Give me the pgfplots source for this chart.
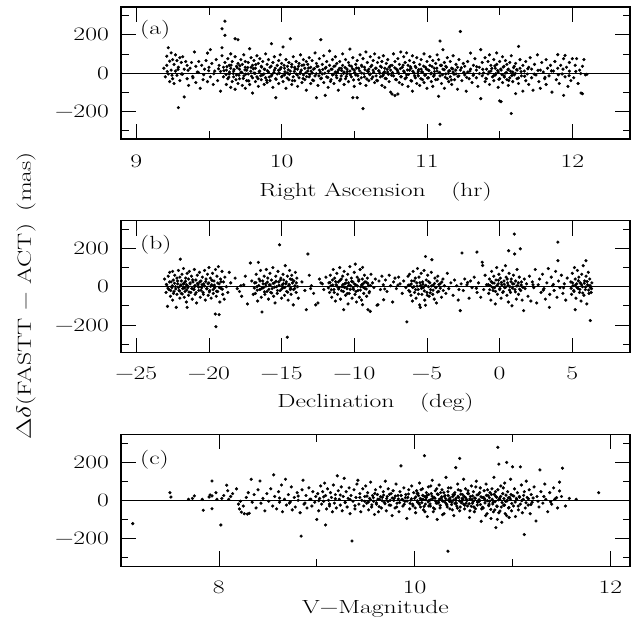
\documentclass[border=0pt]{standalone}
\usepackage{graphicx}
\usepackage{pgfplots}
\pgfplotsset{compat=1.18}

\newcommand{\wide}[1]{\scalebox{1.35}[1]{#1}}
\newcommand{\bigfont}{\fontsize{19bp}{22bp}\selectfont}

\pgfplotsset{
  panel/.style={
    scale only axis, width=509bp, height=132bp,
    anchor=north west,
    ymin=-345, ymax=345,
    ytick={-200,0,200}, minor ytick={-300,-100,100,300},
    yticklabels={\wide{−200},\wide{0},\wide{200}},
    tick align=inside,
    major tick length=15bp, minor tick length=7.5bp,
    tick style={black, line width=0.7bp},
    axis line style={line width=1.5bp},
    tick label style={font=\bigfont},
    label style={font=\bigfont},
    yticklabel style={anchor=east, inner sep=0pt, xshift=-12bp},
    xlabel style={at={(axis description cs:0.5,0)}, anchor=base, inner sep=0pt},
  },
  pts/.style={only marks, mark=*, mark size=1.4bp, black},
  zero/.style={black, line width=0.7bp, forget plot},
}

\begin{document}
\begin{tikzpicture}[font=\bigfont]
\path[use as bounding box] (-121bp,7bp) rectangle (517bp,-622bp);

% (a) right ascension
\begin{axis}[panel, at={(0,0)},
  xmin=8.895, xmax=12.397,
  xtick={9,10,11,12}, minor xtick={9.5,10.5,11.5},
  xticklabels={\wide{9},\wide{10},\wide{11},\wide{12}},
  xticklabel style={anchor=base, inner sep=0pt, yshift=-29bp},
  xlabel={\wide{Right Ascension\quad(hr)}},
  xlabel style={yshift=-58bp}]
\addplot[zero] coordinates {(8.895,0) (12.397,0)};
\addplot[pts] coordinates {
(9.19,25) (9.20,-20) (9.21,88) (9.21,40) (9.22,132) (9.22,-5) (9.23,62) (9.23,-45) (9.24,105) (9.24,15) (9.25,70) (9.25,-30)
(9.26,45) (9.26,-55) (9.27,95) (9.27,10) (9.28,65) (9.28,-12) (9.29,-181) (9.29,30) (9.30,80) (9.30,-40)
(9.31,55) (9.31,-5) (9.32,85) (9.33,-125) (9.33,20) (9.34,60) (9.35,-30) (9.35,40)
(9.36,-65) (9.37,25) (9.38,55) (9.39,-25) (9.40,110) (9.41,35) (9.41,-50) (9.42,5) (9.43,60) (9.44,-80) (9.45,40)
(9.46,-35) (9.47,20) (9.48,65) (9.49,104) (9.49,-45) (9.50,30) (9.51,122) (9.51,-20) (9.52,50) (9.53,-60) (9.54,10) (9.55,70)
(9.56,-40) (9.57,40) (9.58,-95) (9.58,8) (9.59,132) (9.59,231) (9.59,90) (9.60,-20) (9.60,30)
(9.61,271) (9.61,197) (9.61,55) (9.62,-60) (9.62,15) (9.63,75) (9.63,-30) (9.64,40) (9.64,-5) (9.65,100) (9.65,-75) (9.65,25)
(9.66,-45) (9.66,60) (9.67,10) (9.67,-20) (9.68,179) (9.68,85) (9.68,-85) (9.69,35) (9.69,-10) (9.70,174) (9.70,50) (9.70,-55)
(9.71,20) (9.71,-30) (9.72,70) (9.72,5) (9.73,-65) (9.73,45) (9.74,95) (9.74,-15) (9.75,30) (9.75,-80) (9.75,60)
(9.76,-40) (9.76,15) (9.77,55) (9.77,-5) (9.78,127) (9.78,-60) (9.79,30) (9.79,80) (9.80,-25) (9.80,40) (9.80,-105)
(9.81,65) (9.81,0) (9.82,-45) (9.82,25) (9.83,90) (9.83,-20) (9.84,50) (9.84,-70) (9.85,10) (9.85,75)
(9.86,-35) (9.86,35) (9.87,-10) (9.87,60) (9.88,-60) (9.88,20) (9.89,100) (9.89,-25) (9.90,45) (9.90,-50)
(9.91,5) (9.91,70) (9.92,-40) (9.92,30) (9.93,153) (9.93,-15) (9.94,55) (9.94,-75) (9.95,15) (9.95,85)
(9.96,-129) (9.96,-30) (9.97,40) (9.97,-5) (9.98,65) (9.98,-55) (9.99,20) (9.99,95) (10.00,-20) (10.00,50)
(10.01,136) (10.01,-45) (10.02,25) (10.02,-10) (10.03,70) (10.03,-80) (10.04,35) (10.04,0) (10.05,-35) (10.05,55)
(10.06,179) (10.06,10) (10.07,-60) (10.07,45) (10.08,-20) (10.08,85) (10.09,30) (10.09,-40) (10.10,60) (10.10,-5)
(10.11,-70) (10.11,20) (10.12,50) (10.12,-25) (10.13,95) (10.13,5) (10.14,-50) (10.14,40) (10.15,-10) (10.15,70)
(10.16,-35) (10.16,25) (10.17,60) (10.17,-90) (10.18,10) (10.18,45) (10.19,-20) (10.19,80) (10.20,-55) (10.20,30)
(10.21,0) (10.21,65) (10.22,-40) (10.22,20) (10.23,105) (10.23,-15) (10.24,50) (10.24,-129) (10.25,35) (10.25,-65)
(10.26,15) (10.26,75) (10.27,174) (10.27,-30) (10.28,45) (10.28,-5) (10.29,90) (10.29,-50) (10.30,-117) (10.30,25)
(10.31,60) (10.31,-20) (10.32,10) (10.32,-75) (10.33,40) (10.33,115) (10.34,-35) (10.34,20) (10.35,70) (10.35,-10)
(10.36,-55) (10.36,35) (10.37,5) (10.37,85) (10.38,-25) (10.38,50) (10.39,-90) (10.39,15) (10.40,60) (10.40,-40)
(10.41,25) (10.41,-15) (10.42,100) (10.42,40) (10.43,-60) (10.43,5) (10.44,70) (10.44,-30) (10.45,20) (10.45,-5)
(10.46,55) (10.46,-45) (10.47,10) (10.47,125) (10.48,-20) (10.48,35) (10.49,-129) (10.49,80) (10.50,-70) (10.50,15)
(10.51,45) (10.51,-10) (10.52,-129) (10.52,65) (10.53,-35) (10.53,25) (10.54,95) (10.54,-55) (10.55,0) (10.55,40)
(10.56,-186) (10.56,75) (10.57,-20) (10.57,30) (10.58,110) (10.58,-65) (10.59,10) (10.59,55) (10.60,-40) (10.60,20)
(10.61,85) (10.61,-5) (10.62,40) (10.62,-30) (10.63,65) (10.63,15) (10.64,-50) (10.64,100) (10.65,25) (10.65,-15)
(10.66,55) (10.66,-40) (10.67,10) (10.67,80) (10.68,-20) (10.68,35) (10.69,-65) (10.69,60) (10.70,0) (10.70,-10) (10.70,90)
(10.71,25) (10.71,-75) (10.72,50) (10.72,-30) (10.73,5) (10.73,70) (10.74,-45) (10.74,30) (10.75,-100) (10.75,15)
(10.76,-110) (10.76,40) (10.77,-15) (10.77,100) (10.78,-118) (10.78,60) (10.79,-35) (10.79,20) (10.80,-110) (10.80,75) (10.80,5)
(10.81,-50) (10.81,45) (10.82,110) (10.82,-20) (10.83,30) (10.83,-60) (10.84,85) (10.84,10) (10.85,-30) (10.85,55)
(10.86,105) (10.86,-10) (10.87,40) (10.87,-70) (10.88,15) (10.88,65) (10.89,-40) (10.89,25) (10.90,-95) (10.90,90)
(10.91,0) (10.91,55) (10.92,-25) (10.92,35) (10.93,-55) (10.93,80) (10.94,10) (10.94,-15) (10.95,45) (10.95,-65)
(10.96,20) (10.96,70) (10.97,-35) (10.97,5) (10.98,100) (10.98,-50) (10.99,30) (10.99,-10) (11.00,60) (11.00,-80)
(11.01,15) (11.01,-25) (11.02,85) (11.02,40) (11.03,-45) (11.03,0) (11.04,65) (11.04,-70) (11.05,25) (11.05,-10)
(11.06,50) (11.06,-35) (11.07,95) (11.07,10) (11.08,-122) (11.08,70) (11.09,167) (11.09,-268) (11.09,-15) (11.10,40) (11.10,-55)
(11.11,20) (11.11,122) (11.12,-80) (11.12,55) (11.13,-5) (11.13,35) (11.14,-30) (11.14,80) (11.15,10) (11.15,-45)
(11.16,60) (11.16,-20) (11.17,25) (11.17,-60) (11.18,90) (11.18,5) (11.19,-35) (11.20,45) (11.20,-5)
(11.21,30) (11.21,-85) (11.22,70) (11.22,-15) (11.23,217) (11.23,15) (11.24,-40) (11.25,50)
(11.26,-10) (11.26,35) (11.27,-95) (11.28,60) (11.28,5) (11.29,-30) (11.30,104) (11.30,20)
(11.31,-50) (11.32,40) (11.32,-5) (11.33,75) (11.34,-25) (11.34,15) (11.35,-70)
(11.36,30) (11.37,-134) (11.37,122) (11.38,-15) (11.38,55) (11.39,0) (11.40,-45) (11.40,80)
(11.41,20) (11.41,-30) (11.42,60) (11.42,-5) (11.43,95) (11.43,-60) (11.44,10) (11.44,40) (11.45,-20)
(11.46,70) (11.46,-40) (11.47,25) (11.47,-10) (11.48,105) (11.48,45) (11.49,-75) (11.49,5) (11.50,-146) (11.50,60) (11.50,-30)
(11.51,-150) (11.51,15) (11.52,85) (11.52,-50) (11.53,35) (11.53,-15) (11.54,65) (11.54,0) (11.55,-35) (11.55,45)
(11.56,-65) (11.56,20) (11.57,55) (11.57,-25) (11.58,-212) (11.58,90) (11.59,5) (11.59,-45) (11.60,35) (11.60,-10)
(11.61,-108) (11.61,50) (11.62,-30) (11.62,15) (11.63,139) (11.63,-55) (11.64,25) (11.64,70) (11.65,-15)
(11.66,40) (11.66,-95) (11.67,10) (11.68,-40) (11.68,60) (11.69,-5) (11.70,30) (11.70,-60)
(11.71,80) (11.72,-25) (11.72,20) (11.73,-90) (11.74,45) (11.75,-10)
(11.76,95) (11.77,-45) (11.78,15) (11.78,-80) (11.79,55) (11.80,5)
(11.81,-30) (11.82,70) (11.82,-60) (11.83,25) (11.84,-15) (11.85,40)
(11.86,-100) (11.87,10) (11.88,60) (11.89,-35) (11.90,96) (11.90,25)
(11.91,-55) (11.92,40) (11.93,-5) (11.94,-117) (11.94,75) (11.95,92) (11.95,-20)
(11.96,30) (11.97,-70) (11.98,55) (11.98,10) (11.99,-40) (12.00,75)
(12.01,-25) (12.02,40) (12.03,75) (12.04,-55) (12.05,15) (12.06,-105) (12.07,-108) (12.07,35) (12.08,70) (12.09,-10) (12.10,-7)
};
\addplot[pts] coordinates {
(9.213,8) (9.246,-12) (9.287,19) (9.318,-6) (9.356,14) (9.388,-18) (9.427,3) (9.464,-9) (9.498,12) (9.533,-4) (9.566,22)
(9.603,12) (9.618,-8) (9.624,33) (9.637,-22) (9.641,5) (9.652,41) (9.668,-3) (9.673,18) (9.686,-35) (9.694,27)
(9.707,-12) (9.713,38) (9.727,2) (9.736,-28) (9.748,16) (9.753,-6) (9.767,29) (9.774,-41) (9.788,9) (9.793,-17)
(9.806,22) (9.817,-2) (9.822,44) (9.838,-30) (9.846,7) (9.857,-14) (9.863,31) (9.878,-5) (9.884,19) (9.897,-38)
(9.903,11) (9.915,-21) (9.928,36) (9.934,-9) (9.947,3) (9.956,25) (9.962,-33) (9.979,14) (9.985,-1) (9.996,28)
(10.004,-16) (10.017,40) (10.023,6) (10.038,-26) (10.046,17) (10.053,-7) (10.069,32) (10.074,-40) (10.087,8) (10.093,21)
(10.108,-11) (10.116,35) (10.127,-3) (10.135,15) (10.148,-29) (10.153,42) (10.167,1) (10.172,-19) (10.186,26) (10.194,-8)
(10.203,10) (10.214,-37) (10.226,23) (10.238,-4) (10.243,34) (10.257,-15) (10.266,5) (10.274,-27) (10.283,18) (10.297,-1)
(10.305,30) (10.318,-23) (10.324,9) (10.336,-44) (10.347,20) (10.355,-6) (10.368,37) (10.376,-13) (10.384,4) (10.398,24)
(10.407,-32) (10.413,13) (10.426,-2) (10.437,29) (10.445,-18) (10.452,7) (10.466,40) (10.473,-10) (10.488,22) (10.495,-36)
(10.503,3) (10.516,26) (10.524,-14) (10.537,11) (10.548,-25) (10.553,35) (10.567,-4) (10.574,17) (10.586,-31) (10.597,8)
(10.606,-9) (10.614,33) (10.628,-20) (10.633,4) (10.647,25) (10.655,-38) (10.668,12) (10.676,-1) (10.687,30) (10.694,-16)
(10.708,6) (10.713,-28) (10.726,19) (10.734,-7) (10.748,38) (10.756,-12) (10.763,2) (10.779,27) (10.784,-34) (10.797,14)
(10.806,-3) (10.817,23) (10.823,-19) (10.836,41) (10.844,5) (10.858,-24) (10.866,16) (10.873,-8) (10.887,32) (10.895,-42)
(10.903,9) (10.916,-15) (10.924,28) (10.937,-1) (10.943,18) (10.958,-30) (10.964,6) (10.977,36) (10.985,-11) (10.996,21)
(11.004,-26) (11.013,13) (11.027,-4) (11.035,34) (11.046,-17) (11.052,8) (11.068,25) (11.074,-33) (11.087,3) (11.093,40)
(11.107,-9) (11.118,17) (11.126,-22) (11.134,30) (11.147,-2) (11.156,12) (11.168,-36) (11.177,22) (11.186,-6) (11.198,15)
(11.214,-18) (11.236,27) (11.254,4) (11.273,-23) (11.296,10) (11.318,-12) (11.342,33) (11.361,-3) (11.384,19) (11.405,-28)
(11.427,6) (11.446,24) (11.458,-15) (11.467,37) (11.474,-4) (11.486,13) (11.495,-33) (11.507,20) (11.516,-8) (11.524,31)
(11.533,-21) (11.546,2) (11.557,16) (11.563,-39) (11.575,9) (11.584,-13) (11.596,28) (11.608,-2) (11.617,18) (11.629,-26)
(11.648,7) (11.672,-17) (11.694,22) (11.738,-6) (11.764,14) (11.812,-22) (11.857,11) (11.904,-9) (11.936,20) (11.978,-14) (12.024,8) (12.058,-3)
};
\node[anchor=base west, inner sep=0pt, xshift=19bp, yshift=-27bp] at (rel axis cs:0,1) {\wide{(a)}};
\end{axis}

% (b) declination
\begin{axis}[panel, at={(0,-213.7bp)},
  xmin=-26.05, xmax=8.97,
  xtick={-25,-20,-15,-10,-5,0,5},
  xticklabels={\wide{−25},\wide{−20},\wide{−15},\wide{−10},\wide{−5},\wide{0},\wide{5}},
  xticklabel style={anchor=base, inner sep=0pt, yshift=-27bp},
  xlabel={\wide{Declination\quad(deg)}},
  xlabel style={yshift=-55bp}]
\addplot[zero] coordinates {(-26.05,0) (8.97,0)};
\addplot[pts] coordinates {
(-23.05,40) (-22.95,-30) (-22.9,10) (-22.85,-103) (-22.8,55) (-22.75,-15) (-22.7,75) (-22.65,-50) (-22.6,25) (-22.55,-5) (-22.5,80) (-22.5,-70)
(-22.45,35) (-22.4,-25) (-22.35,60) (-22.3,0) (-22.25,-108) (-22.2,45) (-22.2,-40) (-22.15,15) (-22.1,85) (-22.05,-20) (-22.0,50) (-22.0,-60) (-21.97,144) (-21.95,5)
(-21.9,-35) (-21.9,30) (-21.85,65) (-21.8,-10) (-21.75,95) (-21.7,-55) (-21.7,20) (-21.65,-25) (-21.6,45) (-21.55,-80) (-21.55,10) (-21.5,-108) (-21.5,70)
(-21.45,-5) (-21.4,40) (-21.4,-45) (-21.35,80) (-21.3,15) (-21.25,-30) (-21.2,55) (-21.15,-65) (-21.1,25) (-21.05,-15) (-21.0,90) (-21.0,0)
(-20.95,-40) (-20.9,35) (-20.85,-85) (-20.8,60) (-20.75,10) (-20.7,-20) (-20.65,75) (-20.6,-55) (-20.55,30) (-20.5,-5)
(-20.45,50) (-20.4,-30) (-20.35,15) (-20.3,85) (-20.25,-70) (-20.2,40) (-20.15,-10) (-20.1,65) (-20.05,-45) (-20.0,20) (-20.0,100)
(-19.95,-20) (-19.9,45) (-19.85,-60) (-19.8,10) (-19.75,70) (-19.7,-35) (-19.65,30) (-19.6,-5) (-19.56,-143) (-19.55,90) (-19.52,-209) (-19.5,-50)
(-19.45,55) (-19.4,-25) (-19.35,105) (-19.3,-146) (-19.3,15) (-19.25,-80) (-19.2,40) (-19.15,-10) (-19.1,80) (-19.05,-40) (-19.0,25)
(-18.95,-65) (-18.9,50) (-18.8,0) (-18.7,-30) (-18.6,75) (-18.5,20)
(-18.2,45) (-18.05,-10) (-17.9,-25) (-17.75,-50) (-17.6,10) (-17.5,55) (-17.35,-90) (-17.15,124) (-17.05,30) (-16.95,-40)
(-16.85,20) (-16.8,-35) (-16.75,65) (-16.7,0) (-16.65,-75) (-16.6,127) (-16.55,40) (-16.5,-15) (-16.45,85) (-16.4,-55)
(-16.35,-132) (-16.3,30) (-16.25,-5) (-16.2,55) (-16.15,-40) (-16.1,15) (-16.05,90) (-16.0,-25) (-15.95,45) (-15.9,-65)
(-15.85,10) (-15.8,70) (-15.75,-30) (-15.7,35) (-15.65,-10) (-15.6,100) (-15.55,-50) (-15.5,20) (-15.45,-85) (-15.4,55)
(-15.35,0) (-15.3,-35) (-15.25,80) (-15.2,25) (-15.14,219) (-15.1,-20) (-15.05,45) (-15.0,-60) (-14.95,10) (-14.9,65) (-14.9,-5)
(-14.85,35) (-14.8,-45) (-14.75,110) (-14.7,15) (-14.65,-25) (-14.61,-264) (-14.6,55) (-14.55,-70) (-14.5,5) (-14.45,85) (-14.4,-15) (-14.4,40)
(-14.35,-40) (-14.3,60) (-14.25,20) (-14.2,-95) (-14.15,30) (-14.1,-10) (-14.05,75) (-14.0,-30) (-13.95,45) (-13.9,0) (-13.85,-60)
(-13.6,25) (-13.4,-20) (-13.3,-120) (-13.19,171) (-13.1,60) (-12.95,5) (-12.8,-35) (-12.65,-95) (-12.5,-85) (-12.4,40) (-12.2,15) (-12.1,-15) (-11.95,50)
(-11.75,20) (-11.7,-30) (-11.65,60) (-11.6,5) (-11.55,-55) (-11.5,35) (-11.45,90) (-11.4,-15) (-11.35,45) (-11.3,-75)
(-11.25,10) (-11.2,70) (-11.15,-40) (-11.1,25) (-11.05,-5) (-11.0,100) (-10.95,-65) (-10.9,40) (-10.85,0) (-10.8,55)
(-10.75,-25) (-10.73,-120) (-10.7,80) (-10.65,15) (-10.6,-45) (-10.55,35) (-10.5,-10) (-10.45,65) (-10.43,-90) (-10.4,20) (-10.35,-35) (-10.3,105)
(-10.25,5) (-10.2,45) (-10.15,-60) (-10.1,25) (-10.05,-15) (-10.0,75) (-9.95,-40) (-9.93,118) (-9.9,10) (-9.85,-80) (-9.8,50)
(-9.75,-20) (-9.7,30) (-9.65,-55) (-9.6,90) (-9.55,0) (-9.5,-70) (-9.45,40) (-9.43,-94) (-9.43,101) (-9.4,15) (-9.35,-35) (-9.3,60)
(-9.25,-10) (-9.2,25) (-9.15,-50) (-9.1,45) (-9.06,-120) (-9.0,5) (-8.95,-25) (-8.9,-129) (-8.85,65)
(-8.75,20) (-8.65,-5) (-8.55,40) (-8.44,-97) (-8.37,-94) (-8.3,30) (-8.2,-15) (-8.1,55) (-8.0,10) (-7.98,-68) (-7.85,35) (-7.75,-25) (-7.6,60) (-7.5,5) (-7.36,-80) (-7.3,25) (-7.2,45) (-7.1,-10) (-6.95,50) (-6.85,15) (-6.7,-35) (-6.6,30) (-6.45,-5) (-6.38,-184) (-6.3,55)
(-6.25,-20) (-6.2,65) (-6.15,10) (-6.1,-45) (-6.05,30) (-6.0,-75) (-5.95,80) (-5.9,0) (-5.85,-30) (-5.8,45)
(-5.75,-60) (-5.7,20) (-5.65,95) (-5.6,-15) (-5.55,50) (-5.5,-95) (-5.46,-108) (-5.45,5) (-5.4,70) (-5.35,-40) (-5.3,25)
(-5.25,-5) (-5.2,85) (-5.15,-70) (-5.1,158) (-5.1,-97) (-5.05,35) (-5.0,-30) (-4.95,60) (-4.9,0) (-4.85,-50) (-4.8,20)
(-4.75,-15) (-4.7,75) (-4.66,141) (-4.6,-40) (-4.55,10) (-4.5,-65) (-4.45,45) (-4.4,-5) (-4.35,-85) (-4.3,30)
(-4.25,55) (-4.2,-25) (-4.1,15) (-4.0,-55) (-3.9,40) (-3.8,5) (-3.7,-35) (-3.6,70) (-3.5,-10)
(-3.35,20) (-3.2,-45) (-3.1,35) (-2.95,5) (-2.85,-70) (-2.71,-125) (-2.65,15) (-2.59,176) (-2.5,-20) (-2.4,40) (-2.25,10) (-2.1,-60) (-2.0,30) (-1.9,-5) (-1.75,50) (-1.56,181) (-1.55,-30) (-1.45,20) (-1.3,-55) (-1.2,128) (-1.17,111) (-1.1,-15) (-1.0,60) (-0.9,10)
(-0.75,-35) (-0.7,40) (-0.65,5) (-0.6,-70) (-0.55,80) (-0.5,20) (-0.45,-20) (-0.4,55) (-0.35,-5) (-0.3,-90)
(-0.25,35) (-0.2,100) (-0.15,-40) (-0.1,15) (-0.05,65) (0.0,-15) (0.05,45) (0.1,-60) (0.15,10) (0.2,85)
(0.25,-25) (0.3,30) (0.35,-5) (0.4,110) (0.45,50) (0.5,-45) (0.55,20) (0.6,-80) (0.62,188) (0.65,70) (0.7,0)
(0.75,-30) (0.8,40) (0.85,-100) (0.9,15) (0.95,60) (1.01,275) (1.03,171) (1.05,-15) (1.1,30) (1.15,-65) (1.2,90)
(1.25,5) (1.3,-40) (1.35,50) (1.42,198) (1.45,-20) (1.5,25) (1.55,-70) (1.65,-125) (1.7,40) (1.75,-10)
(1.85,15) (1.95,-50) (2.05,55) (2.15,-75) (2.25,25) (2.35,-5) (2.45,90) (2.55,-85) (2.65,10) (2.75,40) (2.85,-30) (2.95,65) (3.05,-10) (3.15,-65) (3.25,20) (3.35,95) (3.42,-108) (3.45,-40) (3.55,50) (3.65,5) (3.75,-20) (3.85,80) (3.95,-55) (4.01,233) (4.01,136) (4.05,30) (4.15,-5) (4.25,60) (4.35,-35) (4.45,15) (4.55,-70) (4.65,45)
(4.9,25) (4.95,-40) (5.0,70) (5.05,5) (5.1,-20) (5.15,100) (5.2,-120) (5.2,40) (5.25,-60) (5.3,15) (5.35,85) (5.4,-10) (5.45,50) (5.5,-30) (5.55,20) (5.6,-75) (5.65,65) (5.7,0) (5.75,110) (5.8,-45) (5.85,30) (5.9,-15) (5.94,136) (5.95,55) (6.0,-90) (6.05,10) (6.1,75) (6.15,-35) (6.2,40) (6.24,-177) (6.25,-5) (6.3,-30) (6.35,20)
};
\addplot[pts] coordinates {
(-22.93,12) (-22.82,-8) (-22.71,25) (-22.63,-20) (-22.52,5) (-22.44,-35) (-22.37,18) (-22.28,-12) (-22.16,30) (-22.09,-4)
(-22.02,-22) (-21.93,9) (-21.84,-38) (-21.76,14) (-21.68,-6) (-21.61,28) (-21.53,-17) (-21.46,3) (-21.37,-28) (-21.29,20)
(-21.18,-9) (-21.12,36) (-21.03,-14) (-20.96,6) (-20.88,-31) (-20.79,17) (-20.71,-2) (-20.63,24) (-20.54,-19) (-20.47,10)
(-20.38,-40) (-20.31,4) (-20.22,27) (-20.14,-11) (-20.06,15) (-19.97,-27) (-19.88,2) (-19.79,33) (-19.71,-15) (-19.63,8)
(-19.48,-24) (-19.39,19) (-19.28,-5) (-19.17,26) (-19.08,-13)
(-16.88,-7) (-16.77,21) (-16.68,-18) (-16.57,6) (-16.48,30) (-16.38,-10) (-16.27,15) (-16.18,-27) (-16.08,3) (-15.98,24)
(-15.88,-14) (-15.78,9) (-15.68,-33) (-15.58,18) (-15.48,-2) (-15.38,28) (-15.28,-20) (-15.18,7) (-15.08,35) (-14.98,-11)
(-14.88,16) (-14.78,-4) (-14.68,25) (-14.58,-29) (-14.48,12) (-14.38,-8) (-14.28,38) (-14.18,-15) (-14.08,5) (-13.98,20)
(-11.78,-6) (-11.68,22) (-11.58,-16) (-11.48,9) (-11.38,-30) (-11.28,26) (-11.18,2) (-11.08,-12) (-10.98,33) (-10.88,-21)
(-10.78,11) (-10.68,-3) (-10.58,19) (-10.48,-36) (-10.38,7) (-10.28,-14) (-10.18,28) (-10.08,-7) (-9.98,14) (-9.88,-25)
(-9.78,4) (-9.68,37) (-9.58,-18) (-9.48,10) (-9.38,-3) (-9.28,24) (-9.18,-12) (-9.08,18) (-8.98,-32) (-8.88,6)
(-6.28,8) (-6.18,-26) (-6.08,14) (-5.98,-4) (-5.88,30) (-5.78,-15) (-5.68,3) (-5.58,-38) (-5.48,21) (-5.38,-9)
(-5.28,13) (-5.18,-22) (-5.08,7) (-4.98,-45) (-4.88,26) (-4.78,-32) (-4.68,4) (-4.58,-18) (-4.48,17) (-4.38,-3)
(-4.28,-28) (-4.18,11) (-4.08,-8) (-3.98,24) (-3.88,-20)
(-0.78,11) (-0.68,-16) (-0.58,27) (-0.48,-4) (-0.38,19) (-0.28,-25) (-0.18,6) (-0.08,34) (0.02,-9) (0.12,22)
(0.22,-30) (0.32,13) (0.42,-2) (0.52,40) (0.58,8) (0.68,-18) (0.78,26) (0.88,-7) (0.98,15) (1.08,-27) (1.18,4) (1.28,20) (1.38,-13) (1.48,9) (1.6,-3)
(-17.8,5) (-13.0,-10) (-12.3,20) (-7.9,-12) (-7.0,8) (-2.8,-15) (-2.2,22) (-1.6,-8) (2.3,10) (3.0,-18) (3.7,12) (4.4,-6)
(4.92,-8) (5.02,20) (5.12,-25) (5.22,9) (5.32,-4) (5.42,31) (5.52,-14) (5.62,12) (5.72,-33) (5.82,18) (5.92,-2) (6.02,27) (6.12,-18) (6.22,6) (6.32,-10)
};
\node[anchor=base west, inner sep=0pt, xshift=19bp, yshift=-29bp] at (rel axis cs:0,1) {\wide{(b)}};
\end{axis}

% (c) V magnitude
\begin{axis}[panel, at={(0,-427.3bp)},
  xmin=7.0, xmax=12.2,
  xtick={8,10,12}, minor xtick={9,11},
  xticklabels={\wide{8},\wide{10},\wide{12}},
  xticklabel style={anchor=base, inner sep=0pt, yshift=-27bp},
  xlabel={\wide{V−Magnitude}},
  xlabel style={yshift=-47bp}]
\addplot[zero] coordinates {(7.0,0) (12.2,0)};
\addplot[pts] coordinates {
(7.12,-122) (7.50,40) (7.51,17) (7.69,5) (7.73,10) (7.75,23) (7.83,5) (7.84,-52) (7.90,17) (7.91,28) (7.93,23) (7.93,101) (7.93,-44) (7.97,40) (7.98,5)
(8.02,-129) (8.03,10) (8.05,25) (8.08,79) (8.09,50) (8.10,5) (8.12,20) (8.14,35) (8.18,60) (8.20,-20) (8.21,-45) (8.22,-5) (8.23,-62) (8.25,-30) (8.26,-70) (8.28,15) (8.29,-72) (8.30,40) (8.31,-68) (8.33,110) (8.34,-10) (8.36,30) (8.38,-40) (8.40,55) (8.42,101) (8.43,-15) (8.45,10) (8.47,-55) (8.49,35)
(8.51,-5) (8.53,60) (8.55,-30) (8.56,133) (8.57,20) (8.59,-45) (8.61,45) (8.62,-10) (8.64,80) (8.65,-60) (8.67,5) (8.68,110) (8.69,-25) (8.71,30) (8.72,-15) (8.74,70) (8.75,-50) (8.77,15) (8.78,-35) (8.80,40) (8.81,0) (8.83,-65) (8.84,-187) (8.85,55) (8.86,105) (8.87,-20) (8.89,25) (8.90,-40) (8.92,65) (8.93,5) (8.95,-30) (8.96,45) (8.98,-10) (8.99,20)
(9.00,-100) (9.01,35) (9.02,-55) (9.03,10) (9.04,75) (9.05,-20) (9.06,45) (9.07,-5) (9.08,90) (9.09,-129) (9.09,25) (9.10,-45) (9.11,60) (9.12,0) (9.13,-30) (9.14,40) (9.15,15) (9.16,-60) (9.17,80) (9.18,-15) (9.19,30) (9.20,-40) (9.21,128) (9.22,50) (9.23,5) (9.24,-25) (9.25,70) (9.26,-55) (9.27,20) (9.28,115) (9.29,-10) (9.30,45) (9.31,-35) (9.32,10) (9.33,65) (9.34,-70) (9.35,25) (9.36,-213) (9.37,-5) (9.38,55) (9.39,-45) (9.40,15) (9.41,85) (9.42,105) (9.43,-20) (9.44,35) (9.45,-60) (9.46,0) (9.47,60) (9.48,-30) (9.49,20)
(9.50,75) (9.51,-15) (9.52,40) (9.53,-50) (9.54,10) (9.55,95) (9.56,-35) (9.57,25) (9.58,-5) (9.59,-74) (9.60,55) (9.61,-20) (9.62,30) (9.63,-60) (9.64,5) (9.65,70) (9.66,-40) (9.67,15) (9.68,45) (9.69,-10) (9.70,100) (9.71,-55) (9.72,20) (9.73,60) (9.74,-25) (9.75,0) (9.76,35) (9.77,-80) (9.78,50) (9.79,10) (9.80,-40) (9.81,85) (9.82,-15) (9.83,25) (9.84,-60) (9.85,45) (9.86,180) (9.87,5) (9.88,-30) (9.89,65) (9.90,-5) (9.91,30) (9.92,-95) (9.93,15) (9.94,55) (9.95,-45) (9.96,0) (9.97,75) (9.98,-20) (9.99,40)
(10.00,10) (10.01,-65) (10.02,50) (10.03,-10) (10.04,25) (10.05,90) (10.06,-35) (10.07,5) (10.08,60) (10.09,-50) (10.10,233) (10.10,20) (10.11,-20) (10.12,40) (10.13,-85) (10.14,70) (10.15,0) (10.16,-30) (10.17,35) (10.18,105) (10.19,-60) (10.20,15) (10.21,50) (10.22,-15) (10.23,-100) (10.24,30) (10.25,80) (10.26,-40) (10.27,10) (10.28,55) (10.29,-5) (10.30,-70) (10.31,25) (10.32,120) (10.33,-25) (10.34,-266) (10.34,45) (10.35,5) (10.36,-45) (10.37,65) (10.38,-10) (10.39,20) (10.40,-80) (10.41,40) (10.42,171) (10.42,0) (10.43,-30) (10.44,85) (10.45,15) (10.46,219) (10.46,-55) (10.47,50) (10.48,-5) (10.49,30) (10.50,-20) (10.50,110)
(10.005,-40) (10.025,35) (10.045,-15) (10.065,55) (10.085,5) (10.105,-60) (10.125,25) (10.145,-30) (10.165,75) (10.185,10) (10.205,-45) (10.225,60) (10.245,-10) (10.265,40) (10.285,-75) (10.305,20) (10.325,-20) (10.345,65) (10.365,0) (10.385,-50) (10.405,30) (10.425,-15) (10.445,55) (10.465,-35) (10.485,10)
(10.51,-45) (10.52,60) (10.53,5) (10.54,-30) (10.55,35) (10.56,-90) (10.57,20) (10.58,75) (10.59,-15) (10.60,45) (10.61,-60) (10.62,10) (10.63,100) (10.64,-25) (10.65,30) (10.66,-5) (10.67,65) (10.68,-110) (10.69,15) (10.70,-40) (10.71,50) (10.72,0) (10.73,85) (10.74,-70) (10.75,25) (10.76,-20) (10.77,40) (10.78,-95) (10.79,60) (10.80,-10) (10.81,120) (10.82,-50) (10.83,-143) (10.83,20) (10.84,-30) (10.85,277) (10.85,55) (10.86,189) (10.86,-65) (10.87,5) (10.88,75) (10.89,-115) (10.90,35) (10.91,-25) (10.92,90) (10.93,-5) (10.94,198) (10.94,-80) (10.95,45) (10.96,-40) (10.97,15) (10.98,110) (10.99,-55) (11.00,175) (11.00,25)
(10.505,20) (10.525,-15) (10.545,50) (10.565,-55) (10.585,5) (10.605,-35) (10.625,70) (10.645,-10) (10.665,40) (10.685,-45) (10.705,15) (10.725,-80) (10.745,55) (10.765,-5) (10.785,30) (10.805,-60) (10.825,45) (10.845,-100) (10.865,10) (10.885,-35) (10.905,65) (10.925,-70) (10.945,0) (10.965,-90) (10.985,30)
(11.01,-30) (11.02,60) (11.03,-85) (11.04,10) (11.05,40) (11.06,-50) (11.07,20) (11.08,175) (11.08,-20) (11.09,80) (11.10,-65) (11.11,5) (11.12,-179) (11.12,45) (11.13,-40) (11.14,100) (11.15,15) (11.16,-25) (11.17,55) (11.18,-70) (11.19,30) (11.20,-10)
(11.22,70) (11.24,-108) (11.25,20) (11.27,-35) (11.28,159) (11.29,45) (11.31,-15) (11.33,85) (11.34,5) (11.36,-60) (11.38,40) (11.40,-20) (11.42,65) (11.43,5) (11.44,10) (11.46,-40) (11.48,49) (11.48,95) (11.50,20)
(11.51,168) (11.54,-30) (11.58,10) (11.65,5) (11.88,40)
};
\addplot[pts] coordinates {
(8.62,12) (8.73,-8) (8.81,22) (8.88,-14) (8.94,6) (9.02,-2) (9.07,18) (9.13,-20) (9.19,8) (9.24,28) (9.29,-12) (9.34,4) (9.39,-28) (9.44,15) (9.49,-5)
(9.513,22) (9.527,-9) (9.548,3) (9.563,-24) (9.578,14) (9.593,36) (9.607,-13) (9.624,6) (9.637,-33) (9.652,19) (9.668,-2) (9.683,27) (9.697,-18) (9.714,9) (9.728,-6) (9.743,31) (9.756,-26) (9.771,12) (9.786,-1) (9.802,22) (9.817,-35) (9.833,7) (9.846,-12) (9.862,25) (9.877,3) (9.893,-21) (9.906,14) (9.922,-4) (9.937,33) (9.953,-16) (9.968,8) (9.983,-29)
(10.012,18) (10.027,-3) (10.033,37) (10.048,-21) (10.057,9) (10.073,-12) (10.082,26) (10.096,-32) (10.113,4) (10.121,15) (10.138,-8) (10.142,30) (10.157,-19) (10.163,2) (10.178,22) (10.192,-40) (10.208,11) (10.217,-5) (10.232,33) (10.238,-15)
(10.253,6) (10.262,-27) (10.277,18) (10.283,-2) (10.298,40) (10.312,-11) (10.318,8) (10.333,-35) (10.342,25) (10.357,-6) (10.362,13) (10.377,-22) (10.392,29) (10.398,1) (10.413,-17) (10.422,10) (10.437,-41) (10.443,21) (10.458,-3) (10.472,32)
(10.478,-13) (10.493,5) (10.512,-26) (10.518,15) (10.533,-1) (10.542,36) (10.557,-18) (10.563,7) (10.578,-31) (10.592,23) (10.598,-6) (10.613,12) (10.622,-44) (10.637,28) (10.643,-9) (10.658,3) (10.672,-22) (10.678,18) (10.693,-37) (10.712,8)
(10.718,-14) (10.733,26) (10.742,-2) (10.757,-28) (10.763,14) (10.778,-48) (10.792,5) (10.798,-19) (10.813,31) (10.822,-7) (10.837,16) (10.843,-33) (10.858,2) (10.872,-56) (10.878,20) (10.893,-12) (10.912,9) (10.918,-25) (10.933,27) (10.942,-4)
(10.957,13) (10.963,-38) (10.978,6) (10.992,-17) (11.013,22) (11.027,-9) (11.043,4) (11.058,-30) (11.072,16) (11.093,-2) (11.113,26) (11.138,-13) (11.162,8) (11.187,-22) (11.21,12) (11.26,-5) (11.32,20) (11.39,-8) (11.45,14)
};
\node[anchor=base west, inner sep=0pt, xshift=19bp, yshift=-30bp] at (rel axis cs:0,1) {\wide{(c)}};
\end{axis}

\node[rotate=90, inner sep=0pt] at (-95bp,-289bp) {\wide{$\Delta\delta$(FASTT − ACT)\enspace(mas)}};
\end{tikzpicture}
\end{document}
